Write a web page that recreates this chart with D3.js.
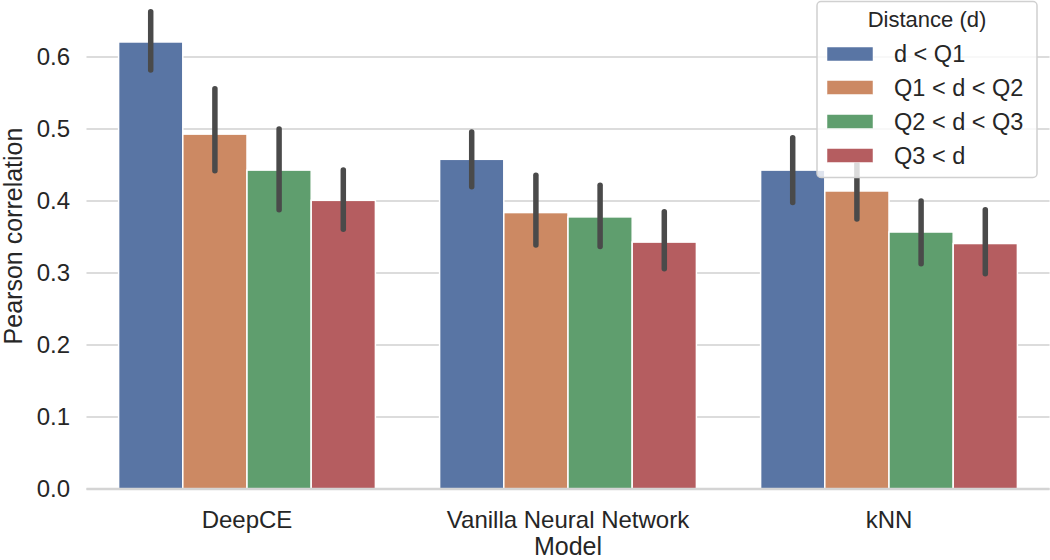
<!DOCTYPE html>
<html>
<head>
<meta charset="utf-8">
<script src="https://cdn.jsdelivr.net/npm/d3@7"></script>
<style>
  body { margin: 0; background: #fff; }
  svg { font-family: "Liberation Sans", Arial, sans-serif; }
</style>
</head>
<body>
<svg id="chart" width="1050" height="560"></svg>
<script>
const models = ["DeepCE", "Vanilla Neural Network", "kNN"];
const groups = ["d < Q1", "Q1 < d < Q2", "Q2 < d < Q3", "Q3 < d"];
const colors = ["#5975a4", "#cc8963", "#5f9e6e", "#b55d60"];
// mean values per model, one array per distance group
const meanQ1  = [0.621, 0.458, 0.443];
const meanQ2  = [0.493, 0.384, 0.414];
const meanQ3  = [0.443, 0.378, 0.357];
const meanQ4  = [0.401, 0.343, 0.341];
// CI lows/highs
const lowQ1  = [0.582, 0.420, 0.398];
const highQ1 = [0.663, 0.496, 0.488];
const lowQ2  = [0.442, 0.339, 0.375];
const highQ2 = [0.556, 0.436, 0.452];
const lowQ3  = [0.388, 0.337, 0.313];
const highQ3 = [0.500, 0.422, 0.400];
const lowQ4  = [0.361, 0.306, 0.299];
const highQ4 = [0.443, 0.385, 0.388];
const yTicks = [0.0, 0.1, 0.2, 0.3, 0.4, 0.5, 0.6];

const means = [meanQ1, meanQ2, meanQ3, meanQ4];
const lows = [lowQ1, lowQ2, lowQ3, lowQ4];
const highs = [highQ1, highQ2, highQ3, highQ4];

const data = [];
models.forEach((m, i) => groups.forEach((g, j) => data.push({
  model: m, group: g, gi: j, mean: means[j][i], lo: lows[j][i], hi: highs[j][i]
})));

const svg = d3.select("#chart");
const pLeft = 86.5, pRight = 1049.5, pTop = -0.5, pBottom = 489;

const x = d3.scaleBand().domain(models).range([pLeft, pRight]).paddingInner(0).paddingOuter(0);
const xg = d3.scaleBand().domain(groups).range([x.bandwidth()*0.1, x.bandwidth()*0.9]);
const y = d3.scaleLinear().domain([0, 0.68]).range([pBottom, pTop]);

// grid
svg.append("g").selectAll("line").data(yTicks).join("line")
  .attr("x1", pLeft).attr("x2", pRight)
  .attr("y1", d => y(d)).attr("y2", d => y(d))
  .attr("stroke", "#dcdcdc").attr("stroke-width", 2);

// y axis labels
const yAxis = d3.axisLeft(y).tickValues(yTicks).tickFormat(d3.format(".1f")).tickSize(0).tickPadding(16.5);
const ya = svg.append("g").attr("transform", `translate(${pLeft},0)`).call(yAxis);
ya.select(".domain").remove();
ya.selectAll("text").attr("font-size", 24).attr("fill", "#262626").attr("font-family", "Liberation Sans, Arial, sans-serif");

// x axis
const xAxis = d3.axisBottom(x).tickSize(0).tickPadding(22);
const xa = svg.append("g").attr("transform", `translate(0,${pBottom})`).call(xAxis);
xa.select(".domain").remove();
xa.selectAll("text").attr("font-size", 24).attr("fill", "#262626").attr("font-family", "Liberation Sans, Arial, sans-serif");

// bars
svg.append("g").selectAll("rect").data(data).join("rect")
  .attr("x", d => x(d.model) + xg(d.group))
  .attr("width", xg.bandwidth())
  .attr("y", d => y(d.mean))
  .attr("height", d => y(0) - y(d.mean))
  .attr("fill", d => colors[d.gi])
  .attr("stroke", "#fff").attr("stroke-width", 1.5);

// bottom spine
svg.append("line").attr("x1", pLeft).attr("x2", pRight).attr("y1", y(0)).attr("y2", y(0))
  .attr("stroke", "#d4d4d4").attr("stroke-width", 2.5);

// error bars
svg.append("g").selectAll("line").data(data).join("line")
  .attr("x1", d => x(d.model) + xg(d.group) + xg.bandwidth()/2)
  .attr("x2", d => x(d.model) + xg(d.group) + xg.bandwidth()/2)
  .attr("y1", d => y(d.lo)).attr("y2", d => y(d.hi))
  .attr("stroke", "#4a4a4a").attr("stroke-width", 5.5).attr("stroke-linecap", "round");

// axis labels
svg.append("text").attr("x", (pLeft+pRight)/2).attr("y", 555).attr("text-anchor", "middle")
  .attr("font-size", 25).attr("fill", "#262626").text("Model");
svg.append("text").attr("transform", `translate(21.5,236) rotate(-90)`)
  .attr("text-anchor", "middle").attr("font-size", 25).attr("fill", "#262626").text("Pearson correlation");

// legend
const lg = svg.append("g");
lg.append("rect").attr("x", 817).attr("y", 1.5).attr("width", 220).attr("height", 176).attr("rx", 4)
  .attr("fill", "rgba(255,255,255,0.8)").attr("stroke", "#d0d0d0").attr("stroke-width", 1.5);
lg.append("text").attr("x", 927).attr("y", 27).attr("text-anchor", "middle").attr("font-size", 22)
  .attr("fill", "#262626").text("Distance (d)");
const rowY = [54, 87.5, 121.5, 155.5];
groups.forEach((g, j) => {
  lg.append("rect").attr("x", 827).attr("y", rowY[j]-7).attr("width", 46).attr("height", 14)
    .attr("fill", colors[j]).attr("stroke", "#fff").attr("stroke-width", 0.5);
  lg.append("text").attr("x", 894).attr("y", rowY[j] + 8).attr("font-size", 23.5)
    .attr("fill", "#262626").text(g);
});
</script>
</body>
</html>
